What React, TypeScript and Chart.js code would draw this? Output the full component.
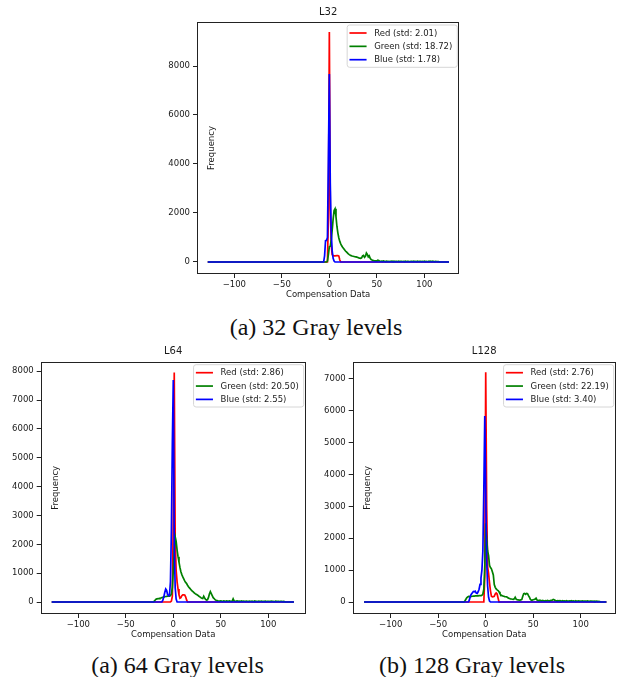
import React, { useEffect, useRef } from "react";
import { Chart, registerables } from "chart.js";

Chart.register(...registerables);

// ---------- data ----------
const BIN_MIN = -128;
const BIN_MAX = 127;
const X_TICKS = [-100, -50, 0, 50, 100];
const SERIES_NAMES = ["Red", "Green", "Blue"];
const SERIES_COLORS = ["#ff0000", "#008000", "#0000ff"];

// L32
const L32_STD = [2.01, 18.72, 1.78];
const L32_Y_TICKS = [0, 2000, 4000, 6000, 8000];
const L32_RED_START = -2;
const L32_RED = [0, 1800, 9390, 2200, 700, 300, 260, 250, 250, 250, 260, 260, 240, 80, 0];
const L32_BLUE_START = -6;
const L32_BLUE = [0, 250, 870, 880, 1000, 4200, 7670, 3200, 1200, 450, 150, 40, 0];
const L32_GREEN_START = -3;
const L32_GREEN = [
  0,
  40, 300, 620, 640, 900, 1300, 1750, 2100, 2170, 1850, 1450, 1180,
  980, 840, 740, 660, 600, 550, 500, 450, 410, 370, 330, 300,
  280, 260, 245, 235, 225, 215, 210, 200, 185, 170, 160, 150,
  170, 250, 270, 190, 230, 370, 310, 210, 250, 150, 100, 80,
  65, 55, 50, 45, 40, 70, 55, 40, 30, 35, 25, 40,
  30, 20, 35, 25, 30, 15, 30, 25, 35, 20, 30, 15,
  25, 30, 20, 30, 15, 25, 30, 20, 25, 15, 30, 20,
  25, 30, 15, 20, 30, 25, 15, 30, 20, 25, 15, 30,
  20, 25, 30, 15, 25, 20, 30, 15, 25, 20, 15, 30,
  20, 25, 15, 30, 20, 15, 25, 20, 15, 20,
];

// L64
const L64_STD = [2.86, 20.5, 2.55];
const L64_Y_TICKS = [0, 1000, 2000, 3000, 4000, 5000, 6000, 7000, 8000];
const L64_RED_START = -2;
const L64_RED = [30, 200, 3000, 7960, 2200, 1100, 700, 450, 250, 130, 150, 220, 250, 250, 240, 180, 70, 0];
const L64_BLUE_START = -12;
const L64_BLUE = [0, 60, 180, 330, 450, 400, 260, 220, 250, 700, 2500, 5500, 7700, 2000, 500, 100, 0];
const L64_GREEN_START = -21;
const L64_GREEN = [
  0,
  30, 70, 100, 110, 120, 115, 130, 140, 150, 160, 170, 180,
  190, 195, 200, 200, 205, 220, 280, 500, 1100, 1800, 2260, 2100,
  1800, 1570, 1380, 1200, 1050, 950, 870, 800, 730, 680, 640, 580,
  530, 490, 450, 410, 380, 350, 320, 290, 270, 250, 230, 200,
  180, 150, 130, 120, 200, 140, 90, 70, 80, 150, 280, 360,
  290, 220, 150, 120, 80, 60, 50, 40, 35, 30, 40, 30,
  25, 35, 30, 20, 35, 30, 25, 40, 30, 25, 35, 110,
  40, 30, 25, 35, 30, 20, 30, 25, 35, 20, 30, 25,
  20, 30, 25, 15, 30, 25, 20, 30, 15, 25, 30, 20,
  25, 15, 30, 20, 25, 30, 15, 25, 20, 30, 15, 25,
  20, 25, 15, 30, 20, 25, 15, 20, 30, 15, 25, 20,
  15, 25, 20, 15, 20, 15,
];

// L128
const L128_STD = [2.76, 22.19, 3.4];
const L128_Y_TICKS = [0, 1000, 2000, 3000, 4000, 5000, 6000, 7000];
const L128_RED_START = -2;
const L128_RED = [0, 800, 7200, 3000, 1100, 900, 600, 350, 180, 160, 170, 180, 250, 280, 250, 120, 0];
const L128_BLUE_START = -18;
const L128_BLUE = [0, 90, 200, 250, 290, 330, 320, 340, 280, 270, 320, 400, 550, 750, 1000, 1600, 3500, 5830, 3500, 1300, 500, 150, 30, 0];
const L128_GREEN_START = -23;
const L128_GREEN = [
  0, 30, 80, 130, 160, 175, 170, 170, 175, 180, 185, 185,
  190, 190, 195, 195, 200, 200, 205, 210, 250, 400, 1100, 2470,
  2000, 1600, 1450, 1150, 1080, 1040, 950, 850, 550, 460, 410, 380,
  360, 320, 260, 220, 200, 190, 180, 170, 165, 160, 140, 120,
  110, 100, 95, 85, 80, 100, 150, 90, 70, 65, 60, 60,
  65, 80, 180, 260, 270, 240, 270, 260, 200, 150, 80, 60,
  60, 70, 80, 90, 120, 60, 50, 40, 55, 45, 35, 50,
  40, 30, 45, 35, 50, 40, 30, 45, 55, 60, 80, 70,
  50, 40, 35, 45, 30, 40, 35, 25, 40, 30, 35, 25,
  40, 30, 25, 35, 30, 40, 25, 35, 30, 20, 35, 25,
  30, 35, 20, 30, 25, 35, 20, 30, 25, 20, 35, 25,
  20, 30, 25, 20, 30, 15, 25, 20, 30, 15, 20, 15,
];

// ---------- layout ----------
const FONT = "'DejaVu Sans', sans-serif";
const SMALL = 8.5;
const TITLE_SIZE = 10;
const Y_AXIS_W = 32;
const X_AXIS_H = 24;
const TEXT_COLOR = "#1a1a1a";

type Rect = { l: number; t: number; r: number; b: number };
type Spec = {
  title: string;
  std: number[];
  red: number[]; redStart: number;
  green: number[]; greenStart: number;
  blue: number[]; blueStart: number;
  yTicks: number[];
  xRange: [number, number];
  yRange: [number, number];
  canvas: { l: number; t: number; w: number; h: number };
  plot: Rect;
};

const PANELS: Spec[] = [
  {
    title: "L32", std: L32_STD,
    red: L32_RED, redStart: L32_RED_START,
    green: L32_GREEN, greenStart: L32_GREEN_START,
    blue: L32_BLUE, blueStart: L32_BLUE_START,
    yTicks: L32_Y_TICKS, xRange: [-139.3, 136.8], yRange: [-490, 9796],
    canvas: { l: 150, t: 0, w: 320, h: 308 },
    plot: { l: 197, t: 22, r: 459.3, b: 274 },
  },
  {
    title: "L64", std: L64_STD,
    red: L64_RED, redStart: L64_RED_START,
    green: L64_GREEN, greenStart: L64_GREEN_START,
    blue: L64_BLUE, blueStart: L64_BLUE_START,
    yTicks: L64_Y_TICKS, xRange: [-139.6, 139.4], yRange: [-416, 8332],
    canvas: { l: 0, t: 340, w: 312, h: 305 },
    plot: { l: 40.7, t: 361.7, r: 305.7, b: 614 },
  },
  {
    title: "L128", std: L128_STD,
    red: L128_RED, redStart: L128_RED_START,
    green: L128_GREEN, greenStart: L128_GREEN_START,
    blue: L128_BLUE, blueStart: L128_BLUE_START,
    yTicks: L128_Y_TICKS, xRange: [-140, 136.8], yRange: [-376, 7533],
    canvas: { l: 312, t: 340, w: 312, h: 305 },
    plot: { l: 352.7, t: 361.7, r: 615.7, b: 614 },
  },
];

const CAPTIONS = [
  { text: "(a) 32 Gray levels", x: 316, y: 327 },
  { text: "(a) 64 Gray levels", x: 177.5, y: 665 },
  { text: "(b) 128 Gray levels", x: 472, y: 665 },
];

function series(start: number, values: number[]) {
  const pts: { x: number; y: number }[] = [];
  for (let b = BIN_MIN; b <= BIN_MAX; b++) {
    const i = b - start;
    pts.push({ x: b, y: i >= 0 && i < values.length ? values[i] : 0 });
  }
  return pts;
}

const fmt = (v: number) => (v < 0 ? "\u2212" + Math.abs(v) : String(v));

const decorPlugin = {
  id: "decor",
  afterDatasetsDraw(chart: any) {
    const ctx = chart.ctx as CanvasRenderingContext2D;
    const ca = chart.chartArea;
    ctx.save();
    // frame
    ctx.strokeStyle = "#222";
    ctx.lineWidth = 1;
    ctx.strokeRect(Math.round(ca.left) + 0.5, Math.round(ca.top) + 0.5, Math.round(ca.right - ca.left) - 1, Math.round(ca.bottom - ca.top) - 1);
    // legend
    ctx.font = `${SMALL}px ${FONT}`;
    const labels: string[] = chart.data.datasets.map((d: any) => d.label);
    const colors: string[] = chart.data.datasets.map((d: any) => d.borderColor);
    const tw = Math.max(...labels.map((s) => ctx.measureText(s).width));
    const w = 27 + tw + 5;
    const h = 42.3;
    const x0 = ca.right - 2 - w;
    const y0 = ca.top + 3;
    ctx.beginPath();
    const r = 2.5;
    ctx.moveTo(x0 + r, y0);
    ctx.lineTo(x0 + w - r, y0);
    ctx.quadraticCurveTo(x0 + w, y0, x0 + w, y0 + r);
    ctx.lineTo(x0 + w, y0 + h - r);
    ctx.quadraticCurveTo(x0 + w, y0 + h, x0 + w - r, y0 + h);
    ctx.lineTo(x0 + r, y0 + h);
    ctx.quadraticCurveTo(x0, y0 + h, x0, y0 + h - r);
    ctx.lineTo(x0, y0 + r);
    ctx.quadraticCurveTo(x0, y0, x0 + r, y0);
    ctx.closePath();
    ctx.fillStyle = "rgba(255,255,255,0.8)";
    ctx.fill();
    ctx.strokeStyle = "#d6d6d6";
    ctx.lineWidth = 1;
    ctx.stroke();
    labels.forEach((lab, i) => {
      const yy = y0 + 8 + i * 13.35;
      ctx.strokeStyle = colors[i];
      ctx.lineWidth = 1.7;
      ctx.beginPath();
      ctx.moveTo(x0 + 2.3, yy);
      ctx.lineTo(x0 + 19.4, yy);
      ctx.stroke();
      ctx.fillStyle = TEXT_COLOR;
      ctx.textAlign = "left";
      ctx.textBaseline = "middle";
      ctx.fillText(lab, x0 + 27, yy + 0.5);
    });
    ctx.restore();
  },
  afterDraw(chart: any, _args: any, opts: any) {
    const ctx = chart.ctx as CanvasRenderingContext2D;
    const ca = chart.chartArea;
    const cx = (ca.left + ca.right) / 2;
    ctx.save();
    ctx.fillStyle = TEXT_COLOR;
    ctx.textAlign = "center";
    ctx.textBaseline = "middle";
    ctx.font = `${TITLE_SIZE}px ${FONT}`;
    ctx.fillText(opts.title, cx, ca.top - 10);
    ctx.font = `${SMALL}px ${FONT}`;
    ctx.fillText(opts.xLabel, cx, ca.bottom + 21);
    ctx.translate(ca.left + 15, (ca.top + ca.bottom) / 2);
    ctx.rotate(-Math.PI / 2);
    ctx.fillText(opts.yLabel, 0, 0);
    ctx.restore();
  },
};

function Panel({ spec }: { spec: Spec }) {
  const ref = useRef<HTMLCanvasElement>(null);
  useEffect(() => {
    const c = ref.current!;
    const { canvas, plot } = spec;
    const pad = {
      left: plot.l - canvas.l - Y_AXIS_W,
      top: plot.t - canvas.t,
      right: canvas.l + canvas.w - plot.r,
      bottom: canvas.t + canvas.h - plot.b - X_AXIS_H,
    };
    const raw = [
      { v: spec.red, s: spec.redStart },
      { v: spec.green, s: spec.greenStart },
      { v: spec.blue, s: spec.blueStart },
    ];
    const datasets = raw.map((r, i) => ({
      label: `${SERIES_NAMES[i]} (std: ${spec.std[i].toFixed(2)})`,
      data: series(r.s, r.v),
      borderColor: SERIES_COLORS[i],
      backgroundColor: SERIES_COLORS[i],
      borderWidth: 1.7,
      pointRadius: 0,
      tension: 0,
      fill: false,
      order: 2 - i,
    }));
    const tickFont = { family: FONT, size: SMALL };
    const gridOpts = { drawOnChartArea: false, drawTicks: true, tickLength: 4, color: "#222", lineWidth: 1 };
    const chart = new Chart(c, {
      type: "line",
      data: { datasets },
      options: {
        responsive: false,
        animation: false,
        parsing: false,
        normalized: true,
        events: [],
        layout: { padding: pad },
        plugins: {
          legend: { display: false },
          title: { display: false },
          tooltip: { enabled: false },
          decor: { title: spec.title, xLabel: "Compensation Data", yLabel: "Frequency" },
        } as any,
        scales: {
          x: {
            type: "linear",
            min: spec.xRange[0],
            max: spec.xRange[1],
            afterBuildTicks: (a: any) => { a.ticks = X_TICKS.map((v) => ({ value: v })); },
            afterFit: (s: any) => { s.height = X_AXIS_H; },
            grid: gridOpts,
            border: { display: false },
            ticks: { font: tickFont, color: TEXT_COLOR, padding: 2, maxRotation: 0, autoSkip: false, callback: (v: any) => fmt(Number(v)) },
          },
          y: {
            type: "linear",
            min: spec.yRange[0],
            max: spec.yRange[1],
            afterBuildTicks: (a: any) => { a.ticks = spec.yTicks.map((v) => ({ value: v })); },
            afterFit: (s: any) => { s.width = Y_AXIS_W; },
            grid: gridOpts,
            border: { display: false },
            ticks: { font: tickFont, color: TEXT_COLOR, padding: 3, autoSkip: false, callback: (v: any) => fmt(Number(v)) },
          },
        },
      },
      plugins: [decorPlugin as any],
    });
    return () => chart.destroy();
  }, [spec]);
  return (
    <canvas
      ref={ref}
      width={spec.canvas.w}
      height={spec.canvas.h}
      style={{ position: "absolute", left: spec.canvas.l, top: spec.canvas.t, width: spec.canvas.w, height: spec.canvas.h }}
    />
  );
}

export default function App() {
  return (
    <div style={{ position: "absolute", left: 0, top: 0, width: 624, height: 677, background: "#fff", overflow: "hidden" }}>
      {PANELS.map((p) => (
        <Panel key={p.title} spec={p} />
      ))}
      {CAPTIONS.map((c) => (
        <div
          key={c.text}
          style={{
            position: "absolute",
            left: c.x,
            top: c.y - 12,
            transform: "translateX(-50%)",
            whiteSpace: "nowrap",
            fontFamily: "'Liberation Serif', 'Times New Roman', serif",
            fontSize: 24,
            lineHeight: "24px",
            color: "#111",
          }}
        >
          {c.text}
        </div>
      ))}
    </div>
  );
}
